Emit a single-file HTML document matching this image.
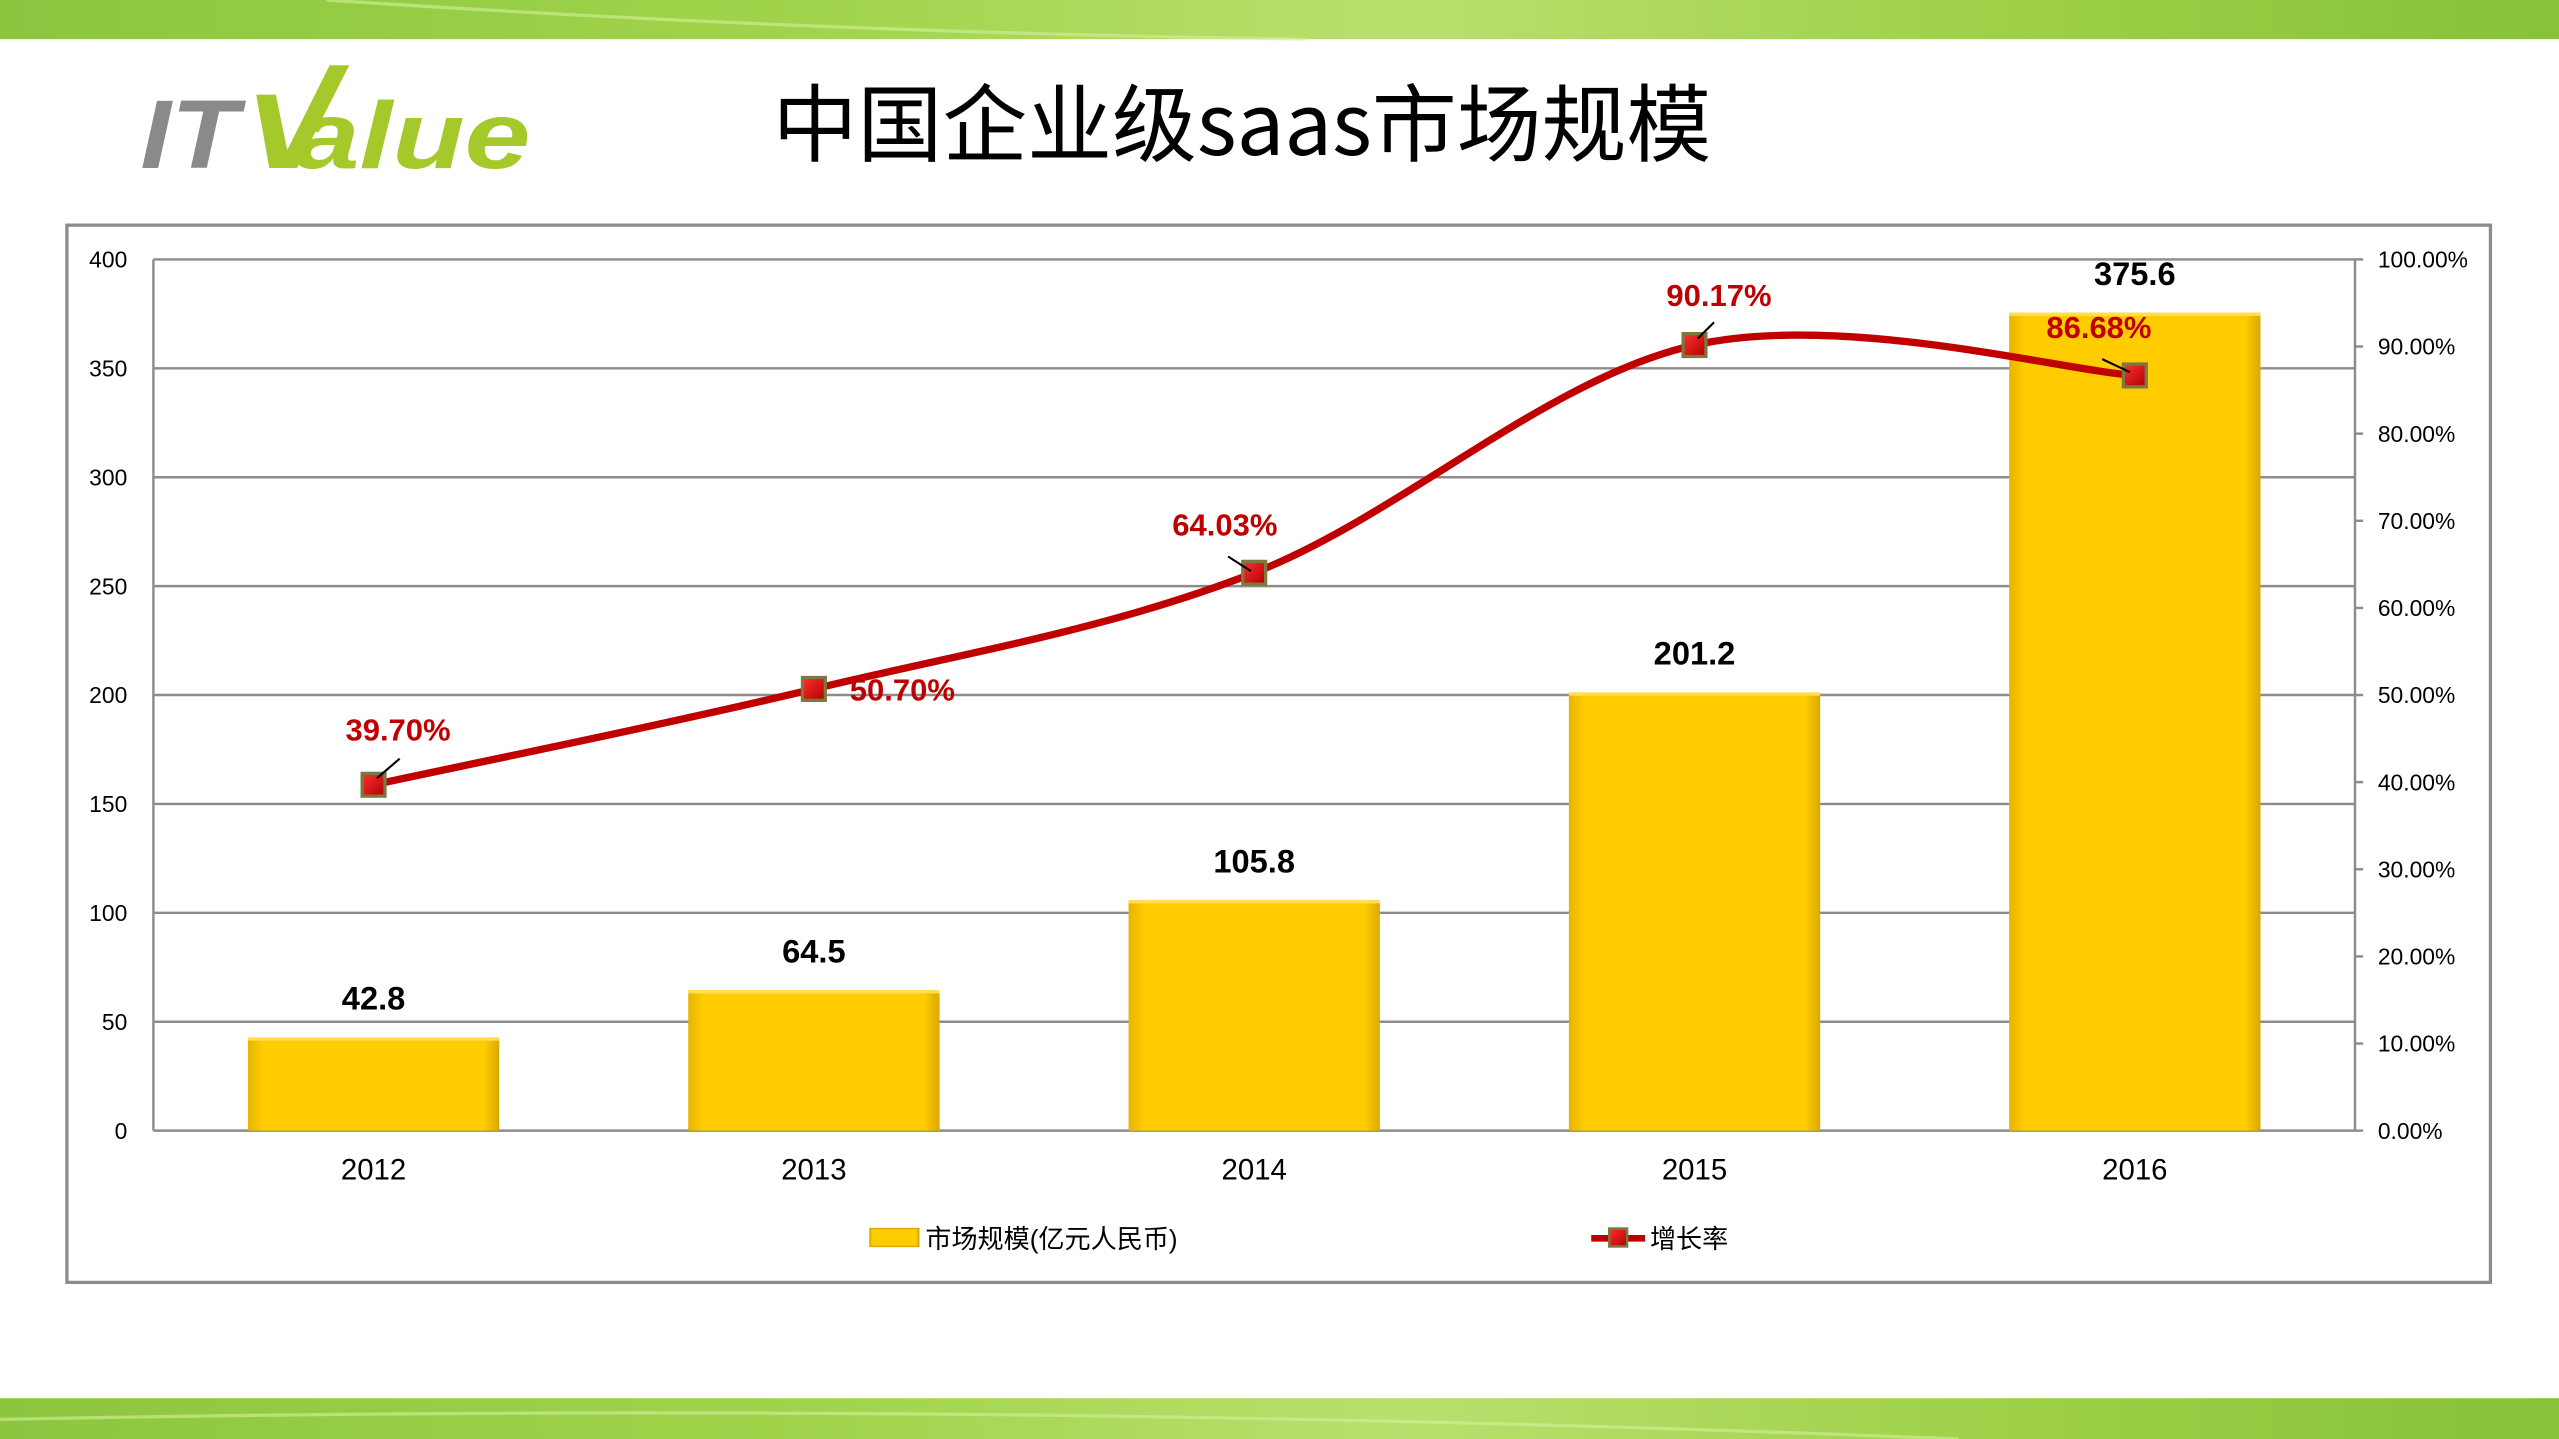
<!DOCTYPE html>
<html><head><meta charset="utf-8"><style>
html,body{margin:0;padding:0;background:#fff;overflow:hidden}
svg{display:block;font-family:"Liberation Sans","Noto Sans CJK SC",sans-serif}
</style></head><body>
<svg id="chart" width="2559" height="1439" viewBox="0 0 1568 882" preserveAspectRatio="none" xmlns="http://www.w3.org/2000/svg">
<defs>
<linearGradient id="gband" x1="0" y1="0" x2="1" y2="0">
<stop offset="0" stop-color="#8cc63f"/><stop offset="0.3" stop-color="#9fd34a"/><stop offset="0.55" stop-color="#b8e06e"/><stop offset="0.8" stop-color="#9ccf45"/><stop offset="1" stop-color="#86c23a"/></linearGradient>
<linearGradient id="gbar" x1="0" y1="0" x2="1" y2="0">
<stop offset="0" stop-color="#e6b400"/><stop offset="0.06" stop-color="#ffcc00"/><stop offset="0.94" stop-color="#ffcc00"/><stop offset="1" stop-color="#d9a800"/></linearGradient>
<linearGradient id="gmark" x1="0" y1="0" x2="1" y2="1">
<stop offset="0" stop-color="#ff3030"/><stop offset="1" stop-color="#b00000"/></linearGradient>
</defs>
<rect x="0" y="0" width="1568" height="24" fill="url(#gband)"/>
<path d="M200 0 Q500 20 800 24" stroke="#d4f09a" stroke-width="2" fill="none" opacity="0.6"/>
<rect x="0" y="857" width="1568" height="25" fill="url(#gband)"/>
<path d="M0 870 Q600 858 1200 882" stroke="#d4f09a" stroke-width="2" fill="none" opacity="0.6"/>
<g>
<text x="86" y="103" font-size="60" font-weight="bold" font-style="italic" fill="#8a8a8a" textLength="60" lengthAdjust="spacingAndGlyphs">IT</text>
<path d="M157 58 L169 58 L176 92 L202 40 L214 40 L182 103 L165 103 Z" fill="#a5c92b"/>
<text x="180" y="103" font-size="58" font-weight="bold" font-style="italic" fill="#a5c92b" textLength="145" lengthAdjust="spacingAndGlyphs">alue</text>
</g>
<text x="761" y="95" text-anchor="middle" font-size="52" fill="#000" font-family="'Noto Sans CJK SC','Liberation Sans',sans-serif">中国企业级saas市场规模</text>
<rect x="41" y="138" width="1485" height="648" fill="#fff" stroke="#8c8c8c" stroke-width="2"/>
<g id="plot"></g>
<g>
<rect x="533" y="753" width="30" height="11" fill="url(#gbar)" stroke="#d9a800" stroke-width="0.8"/>
<text x="567" y="765" font-size="16" fill="#000">市场规模(亿元人民币)</text>
<line x1="975" y1="759" x2="1008" y2="759" stroke="#c00000" stroke-width="4"/>
<rect x="986" y="753" width="11" height="11" fill="url(#gmark)" stroke="#7a7a40" stroke-width="1.5"/>
<text x="1011" y="765" font-size="16" fill="#000">增长率</text>
</g>
</svg>
<script>
const categories = ["2012","2013","2014","2015","2016"];
const marketSize = [42.8, 64.5, 105.8, 201.2, 375.6];
const growthRate = [39.70, 50.70, 64.03, 90.17, 86.68];
const leftTicks = [0,50,100,150,200,250,300,350,400];
const rightTicks = [0,10,20,30,40,50,60,70,80,90,100];

const NS="http://www.w3.org/2000/svg";
const g=document.getElementById('plot');
const X0=94,X1=1443,Y0=693,Y1=159;
const band=(X1-X0)/categories.length;
const xC=i=>X0+band*(i+0.5);
const yL=v=>Y0-(v/400)*(Y0-Y1);
const yR=v=>Y0-(v/100)*(Y0-Y1);
function mk(t,a,p){const e=document.createElementNS(NS,t);for(const k in a)e.setAttribute(k,a[k]);(p||g).appendChild(e);return e;}

leftTicks.forEach(v=>{
  const l=mk('line',{x1:X0,x2:X1,y1:yL(v),y2:yL(v),stroke:'#8c8c8c','stroke-width':1.5});
  
  
  const t=mk('text',{x:78,y:yL(v)+5,'text-anchor':'end','font-size':14,fill:'#000'});
  
  
  t.textContent=v;
});
mk('line',{x1:X0,x2:X0,y1:Y1,y2:Y0,stroke:'#8c8c8c','stroke-width':1.5});
mk('line',{x1:X1,x2:X1,y1:Y1,y2:Y0,stroke:'#8c8c8c','stroke-width':1.5});
rightTicks.forEach(v=>{
  mk('line',{x1:X1,x2:X1+5,y1:yR(v),y2:yR(v),stroke:'#8c8c8c','stroke-width':1.5});
  const t=mk('text',{x:1457,y:yR(v)+5,'font-size':14,fill:'#000'});
  
  
  t.textContent=v.toFixed(2)+'%';
});
categories.forEach((c,i)=>{
  const t=mk('text',{x:xC(i),y:723,'text-anchor':'middle','font-size':18,fill:'#000'});
  
  
  t.textContent=c;
});
const bw=154;
marketSize.forEach((v,i)=>{
  const r=mk('rect',{x:xC(i)-bw/2,y:yL(v),width:bw,height:Y0-yL(v),fill:'url(#gbar)'});
  
  
  mk('rect',{x:xC(i)-bw/2,y:yL(v),width:bw,height:2,fill:'#ffdf50'});
  const t=mk('text',{x:xC(i),y:yL(v)-17,'text-anchor':'middle','font-size':20,'font-weight':'bold',fill:'#000'});
  
  
  t.textContent=v;
});
const pts=growthRate.map((v,i)=>[xC(i),yR(v)]);
let d='M'+pts[0][0]+' '+pts[0][1];
for(let i=0;i<pts.length-1;i++){
  const p0=pts[Math.max(0,i-1)],p1=pts[i],p2=pts[i+1],p3=pts[Math.min(pts.length-1,i+2)];
  const c1=[p1[0]+(p2[0]-p0[0])/6,p1[1]+(p2[1]-p0[1])/6];
  const c2=[p2[0]-(p3[0]-p1[0])/6,p2[1]-(p3[1]-p1[1])/6];
  d+=` C${c1[0]} ${c1[1]} ${c2[0]} ${c2[1]} ${p2[0]} ${p2[1]}`;
}
const ln=mk('path',{d:d,fill:'none',stroke:'#c00000','stroke-width':4.5});


const offs=[[15,-27,'middle',[2,-4,16,-16]],[22,7,'start',null],[-18,-23,'middle',[-2,-1,-16,-10]],[15,-24,'middle',[2,-4,12,-14]],[-22,-23,'middle',[-3,-2,-20,-10]]];
pts.forEach((p,i)=>{
  const m=mk('rect',{x:p[0]-7,y:p[1]-7,width:14,height:14,fill:'url(#gmark)',stroke:'#7a7a40','stroke-width':2});
  
  
  const o=offs[i];
  if(o[3])mk('line',{x1:p[0]+o[3][0],y1:p[1]+o[3][1],x2:p[0]+o[3][2],y2:p[1]+o[3][3],stroke:'#000','stroke-width':1.3});
  const t=mk('text',{x:p[0]+o[0],y:p[1]+o[1],'text-anchor':o[2],'font-size':19,'font-weight':'bold',fill:'#c00000'});
  
  
  t.textContent=growthRate[i].toFixed(2)+'%';
});
</script>
</body></html>
